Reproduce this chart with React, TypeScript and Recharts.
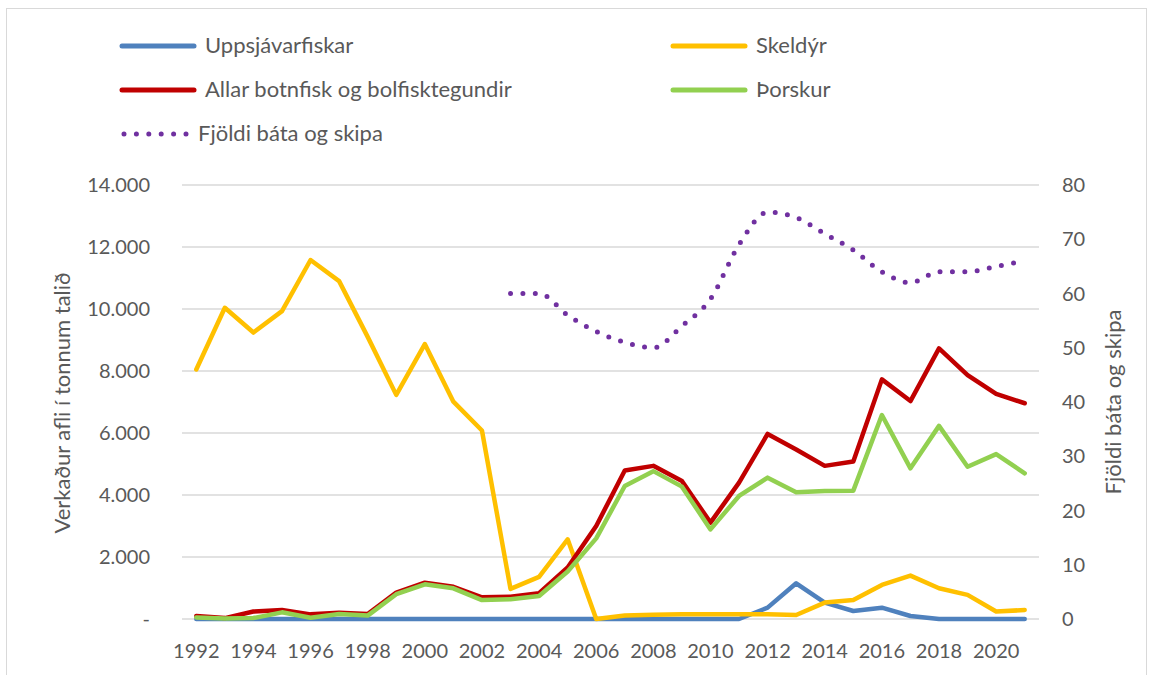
import React from 'react';
import { ComposedChart, Line, XAxis, YAxis, CartesianGrid, Legend } from 'recharts';

const years = [1992,1993,1994,1995,1996,1997,1998,1999,2000,2001,2002,2003,2004,2005,2006,2007,2008,2009,2010,2011,2012,2013,2014,2015,2016,2017,2018,2019,2020,2021];

const uppsjavarfiskar = [0,0,0,0,0,0,0,0,0,0,0,0,0,0,0,0,0,0,0,0,366,1151,527,258,366,97,0,0,0,0];
const skeldyr = [8050,10040,9240,9930,11580,10900,9100,7230,8870,7010,6080,970,1360,2570,0,110,140,150,150,150,150,130,530,610,1100,1400,990,780,240,290];
const allarBotnfisk = [100,30,240,290,150,200,160,850,1170,1040,700,720,830,1660,3000,4790,4940,4450,3110,4400,5970,5470,4940,5080,7730,7030,8730,7870,7260,6960];
const thorskur = [50,20,30,215,40,160,110,800,1120,990,610,640,740,1530,2600,4290,4770,4270,2890,3970,4560,4090,4130,4140,6580,4860,6230,4910,5320,4700];
const fjoldi: (number | null)[] = [null,null,null,null,null,null,null,null,null,null,null,60,60,56,53,51,50,54,59,69,75,74,71,68,64,62,64,64,65,66];

const leftTicks = [0,2000,4000,6000,8000,10000,12000,14000];
const rightTicks = [0,10,20,30,40,50,60,70,80];

const seriesNames = {
  upp: 'Uppsjávarfiskar',
  skel: 'Skeldýr',
  allar: 'Allar botnfisk og bolfisktegundir',
  thor: 'Þorskur',
  fjol: 'Fjöldi báta og skipa',
};

const leftAxisTitle = 'Verkaður afli í tonnum talið';
const rightAxisTitle = 'Fjöldi báta og skipa';

const data = years.map((y, i) => ({
  year: String(y),
  upp: uppsjavarfiskar[i],
  skel: skeldyr[i],
  allar: allarBotnfisk[i],
  thor: thorskur[i],
  fjol: fjoldi[i],
}));

const FONT = 'Lato, "Liberation Sans", sans-serif';
const TEXT = '#595959';

const COLORS = {
  upp: '#4F81BD',
  skel: '#FFC000',
  allar: '#C00000',
  thor: '#92D050',
  fjol: '#7030A0',
};

const fmtLeft = (v: number) => (v === 0 ? '-' : v.toLocaleString('de-DE'));

const legendItems = [
  { key: 'upp', x1: 122, x2: 194, tx: 205, y: 46, dotted: false },
  { key: 'skel', x1: 673, x2: 745, tx: 756, y: 46, dotted: false },
  { key: 'allar', x1: 122, x2: 194, tx: 205, y: 90, dotted: false },
  { key: 'thor', x1: 673, x2: 745, tx: 756, y: 90, dotted: false },
  { key: 'fjol', x1: 124, x2: 187, tx: 198, y: 134, dotted: true },
];

const LegendContent = () => (
  <div style={{ position: 'relative', width: 1154, height: 170 }}>
    <svg width={1154} height={170} style={{ position: 'absolute', left: 0, top: 0 }}>
      {legendItems.map((it) => (
        <line
          key={it.key}
          x1={it.x1}
          x2={it.x2}
          y1={it.y}
          y2={it.y}
          stroke={(COLORS as any)[it.key]}
          strokeWidth={5}
          strokeLinecap="round"
          strokeDasharray={it.dotted ? '0 12.4' : undefined}
        />
      ))}
    </svg>
    {legendItems.map((it) => (
      <div
        key={it.key + 't'}
        style={{
          position: 'absolute',
          left: it.tx,
          top: it.y - 15,
          height: 28,
          lineHeight: '28px',
          fontFamily: FONT,
          fontSize: 22,
          color: TEXT,
          whiteSpace: 'nowrap',
        }}
      >
        {(seriesNames as any)[it.key]}
      </div>
    ))}
  </div>
);

const LeftTitle = () => (
  <text
    x={61}
    y={403}
    transform="rotate(-90, 61, 403)"
    textAnchor="middle"
    dominantBaseline="central"
    fontFamily={FONT}
    fontSize={22}
    fill={TEXT}
  >
    {leftAxisTitle}
  </text>
);

const RightTitle = () => (
  <text
    x={1112}
    y={402}
    transform="rotate(-90, 1112, 402)"
    textAnchor="middle"
    dominantBaseline="central"
    fontFamily={FONT}
    fontSize={22}
    fill={TEXT}
  >
    {rightAxisTitle}
  </text>
);

export default function App() {
  const tickStyle = { fontFamily: FONT, fontSize: 20, fill: TEXT };
  return (
    <div style={{ position: 'fixed', left: 0, top: 0, width: 1154, height: 675, background: '#fff', overflow: 'hidden' }}>
      <div
        style={{
          position: 'absolute',
          left: 6,
          top: 8,
          width: 1141,
          height: 700,
          border: '1.5px solid #d9d9d9',
          boxSizing: 'border-box',
        }}
      />
      <div style={{ position: 'absolute', left: 0, top: 0 }}>
        <ComposedChart
          width={1154}
          height={675}
          data={data}
          margin={{ top: 185, right: 0, bottom: 0, left: 0 }}
        >
          <CartesianGrid yAxisId="left" vertical={false} stroke="#d9d9d9" strokeWidth={1.5} />
          <XAxis
            dataKey="year"
            scale="band"
            interval={1}
            axisLine={false}
            tickLine={false}
            tickSize={0}
            tickMargin={25}
            height={56}
            tick={tickStyle}
          />
          <YAxis
            yAxisId="left"
            orientation="left"
            width={182}
            domain={[0, 14000]}
            ticks={leftTicks}
            tickFormatter={fmtLeft}
            axisLine={false}
            tickLine={false}
            tickSize={0}
            tickMargin={32}
            tick={tickStyle}
            label={<LeftTitle />}
          />
          <YAxis
            yAxisId="right"
            orientation="right"
            width={115}
            domain={[0, 80]}
            ticks={rightTicks}
            axisLine={false}
            tickLine={false}
            tickSize={0}
            tickMargin={23}
            tick={tickStyle}
            label={<RightTitle />}
          />
          <Legend
            layout="horizontal"
            verticalAlign="middle"
            align="center"
            wrapperStyle={{ top: 0, left: 0, width: 1154, height: 170 }}
            content={<LegendContent />}
          />
          <Line yAxisId="left" dataKey="upp" name={seriesNames.upp} stroke={COLORS.upp} strokeWidth={4.5} dot={false} strokeLinejoin="round" strokeLinecap="round" isAnimationActive={false} />
          <Line yAxisId="left" dataKey="skel" name={seriesNames.skel} stroke={COLORS.skel} strokeWidth={4.5} dot={false} strokeLinejoin="round" strokeLinecap="round" isAnimationActive={false} />
          <Line yAxisId="left" dataKey="allar" name={seriesNames.allar} stroke={COLORS.allar} strokeWidth={4.5} dot={false} strokeLinejoin="round" strokeLinecap="round" isAnimationActive={false} />
          <Line yAxisId="left" dataKey="thor" name={seriesNames.thor} stroke={COLORS.thor} strokeWidth={4.5} dot={false} strokeLinejoin="round" strokeLinecap="round" isAnimationActive={false} />
          <Line
            yAxisId="right"
            type="monotone"
            dataKey="fjol"
            name={seriesNames.fjol}
            stroke={COLORS.fjol}
            strokeWidth={5}
            strokeDasharray="0 12.4"
            strokeLinecap="round"
            dot={false}
            isAnimationActive={false}
          />
        </ComposedChart>
      </div>
    </div>
  );
}
